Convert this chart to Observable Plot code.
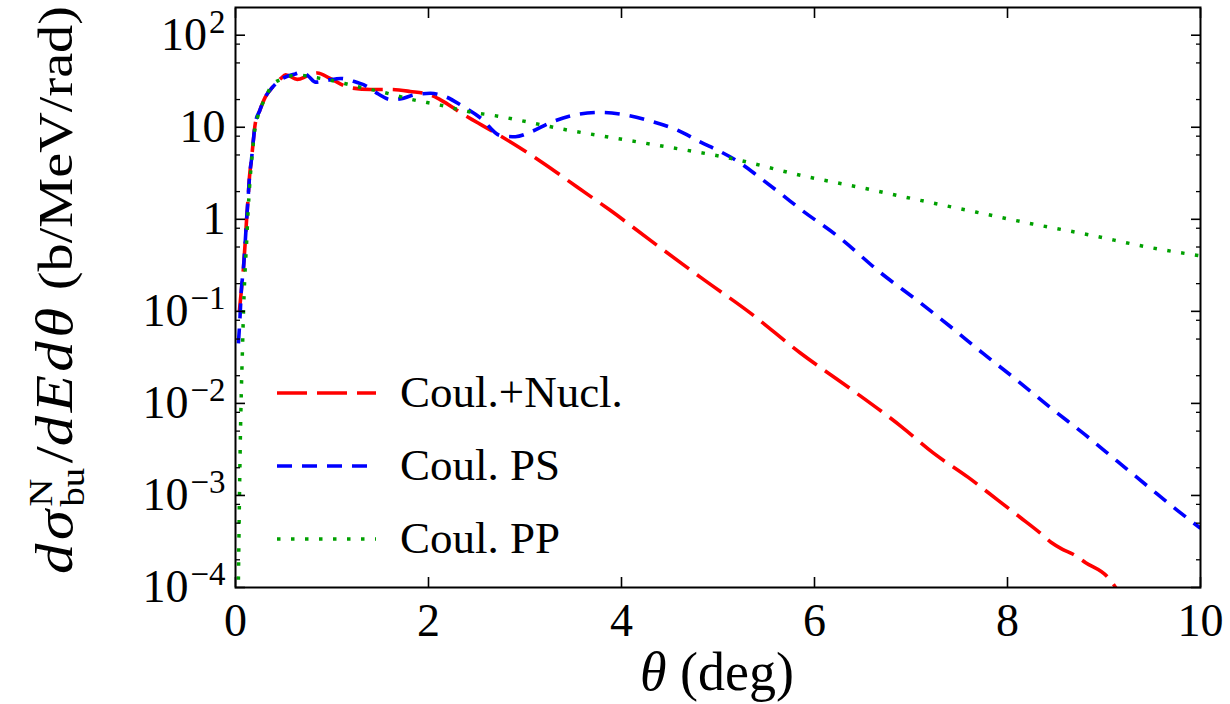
<!DOCTYPE html>
<html>
<head>
<meta charset="utf-8">
<script src="https://cdn.jsdelivr.net/npm/d3@7"></script>
<script src="https://cdn.jsdelivr.net/npm/@observablehq/plot@0.6"></script>
<style>
  html, body { margin: 0; padding: 0; background: #fff; }
  #chart svg text, #chart svg tspan { font-family: "Liberation Serif", "Times New Roman", Times, "Nimbus Roman", "DejaVu Serif", serif !important; }
</style>
</head>
<body>
<div id="chart"></div>
<script>
// ---- Data (theta in degrees, cross section in b/MeV/rad) ----
const thetaRed = [0.04,0.06,0.083,0.10,0.115,0.13,0.145,0.165,0.185,0.205,0.25,0.31,0.38,0.47,0.52,0.64,0.75,0.85,0.98,1.19,1.40,1.61,1.81,2.02,2.12,2.36,2.51,2.85,3.19,3.54,3.88,4.30,4.82,5.34,5.85,6.37,6.90,7.23,7.59,7.90,8.13,8.34,8.45,8.57,8.68,8.81,9.04,9.12,9.2];
const sigmaRed = [0.1,0.166,0.30,0.55,1.0,1.66,2.9,4.4,7.2,11,15.1,21.4,26.9,33.9,37.2,33.1,36.3,38.9,33.9,26.9,25.7,25.7,24.5,22.4,20,13.8,11.2,6.9,4.07,2.24,1.26,0.59,0.234,0.095,0.0355,0.0145,0.0056,0.0029,0.00158,0.00089,0.00058,0.00039,0.00031,0.00026,0.00023,0.000186,0.000129,0.0001,0.00007];

const thetaBlue = [0.03,0.045,0.06,0.083,0.10,0.115,0.13,0.145,0.165,0.185,0.205,0.25,0.31,0.38,0.47,0.55,0.62,0.69,0.76,0.83,0.95,1.09,1.22,1.35,1.48,1.61,1.72,1.81,2.02,2.18,2.35,2.54,2.75,2.90,3.06,3.26,3.50,3.78,4.06,4.30,4.58,4.82,5.03,5.23,5.44,5.65,5.85,6.27,6.68,7.07,7.41,7.75,8.10,8.45,8.80,9.14,9.49,9.76,10];
const sigmaBlue = [0.045,0.08,0.166,0.30,0.55,1.0,1.66,2.9,4.4,7.2,11,15.1,21.4,26.9,33,36.3,38,39.8,35.5,30.9,32.4,33.9,31.6,28.2,23,20,20.4,21.9,23.4,21.4,17,12.6,8.1,7.9,8.9,11.2,13.5,14.5,13.5,11.7,9.3,6.9,5.4,4.1,2.8,1.9,1.3,0.62,0.265,0.13,0.068,0.0347,0.0178,0.0089,0.0046,0.00234,0.00117,0.00069,0.00044];

const thetaGreen = [0.02,0.03,0.04,0.05,0.06,0.07,0.083,0.095,0.115,0.13,0.145,0.16,0.18,0.20,0.23,0.27,0.31,0.38,0.50,0.65,0.80,0.95,1.24,1.53,1.83,2.12,2.41,2.72,3.03,3.40,3.78,4.40,5.13,5.89,6.50,7.08,7.67,8.26,8.84,9.45,10];
const sigmaGreen = [0.00003,0.00012,0.0008,0.004,0.013,0.032,0.1,0.22,0.56,1.2,2.2,3.6,6,9.5,13,17,21,28.8,34,37,35,33,28,24,20,17.4,14.8,13.2,11.4,9.5,8.1,6.3,4.6,2.95,2.19,1.62,1.2,0.89,0.68,0.5,0.40];

const seriesNames = ["Coul.+Nucl.", "Coul. PS", "Coul. PP"];
const seriesColors = ["#ff0000", "#0000ff", "#00a000"];
const seriesDashes = ["30,10", "15,10", "3.5,10.5"];

const xTicks = [0, 2, 4, 6, 8, 10];
const yMajor = [1e-4, 1e-3, 1e-2, 1e-1, 1, 10, 100];
const yMinorMult = [2, 5, 8];
const yMinor = yMajor.flatMap(d => yMinorMult.map(m => d * m)).filter(v => v < 200);

// ---- Build tables ----
const toRows = (th, vals) => th.map((t, i) => ({theta: t, v: vals[i]}));
const tables = [toRows(thetaRed, sigmaRed), toRows(thetaBlue, sigmaBlue), toRows(thetaGreen, sigmaGreen)];

const fmtPow = d => {
  const e = Math.round(Math.log10(d));
  if (e === 0) return "1";
  if (e === 1) return "10";
  return "10^" + (e < 0 ? "\u2212" + (-e) : String(e));
};

const lineMarks = tables.map((rows, i) => Plot.line(rows, {
  x: "theta", y: "v",
  stroke: seriesColors[i],
  strokeWidth: i === 2 ? 3.5 : 3.6,
  strokeDasharray: seriesDashes[i],
  strokeLinecap: "butt",
  curve: "monotone-x",
  clip: true
}));

const plot = Plot.plot({
  width: 1230,
  height: 704,
  marginLeft: 235,
  marginRight: 30,
  marginTop: 7,
  marginBottom: 117,
  style: {background: "white", color: "black"},
  x: {domain: [0, 10]},
  y: {type: "log", domain: [1e-4, 200]},
  marks: [
    ...lineMarks,
    Plot.frame({stroke: "black", strokeWidth: 2}),
    Plot.axisX({anchor: "bottom", ticks: xTicks, tickSize: -10, tickPadding: 26, tickFormat: d => String(d), fontSize: 46, label: null, strokeWidth: 1.6}),
    Plot.axisX({anchor: "top", ticks: xTicks, tickSize: -10, tickFormat: () => "", label: null, strokeWidth: 1.6}),
    Plot.axisY({anchor: "left", ticks: yMajor, tickSize: -10, tickPadding: 20, tickFormat: fmtPow, fontSize: 46, label: null, strokeWidth: 1.6}),
    Plot.axisY({anchor: "right", ticks: yMajor, tickSize: -10, tickFormat: () => "", label: null, strokeWidth: 1.6}),
    Plot.axisY({anchor: "left", ticks: yMinor, tickSize: -5, tickFormat: () => "", label: null, strokeWidth: 1.3}),
    Plot.axisY({anchor: "right", ticks: yMinor, tickSize: -5, tickFormat: () => "", label: null, strokeWidth: 1.3})
  ]
});

document.getElementById("chart").appendChild(plot);

const svg = d3.select(plot);

// superscripts for power-of-ten tick labels
svg.selectAll("text").each(function() {
  const s = this.textContent;
  if (s && s.startsWith("10^")) {
    const exp = s.slice(3);
    const t = d3.select(this);
    t.text("");
    t.append("tspan").text("10");
    t.append("tspan").attr("font-size", 33).attr("dx", 2).attr("dy", "-17").text(exp);
  }
});

// y-axis label
const yl = svg.append("text")
  .attr("text-anchor", "middle")
  .attr("font-size", 48)
  .attr("fill", "black");
yl.append("tspan").attr("font-style", "italic").attr("font-size", 52).attr("letter-spacing", 3).text("dσ");
yl.append("tspan").attr("font-size", 33).attr("dy", -20).text("N");
yl.append("tspan").attr("font-size", 33).attr("dx", -24).attr("dy", 32).text("bu");
yl.append("tspan").attr("dy", -12).attr("dx", 4).attr("font-size", 52).text("/");
yl.append("tspan").attr("font-style", "italic").attr("font-size", 52).attr("letter-spacing", 3).text("dEdθ");
yl.append("tspan").text("\u00a0(b/MeV/rad)");
{
  const w = yl.node().getBBox().width;
  const sx = 568 / w;
  yl.attr("transform", `translate(72,290) rotate(-90) scale(${sx},1)`);
}

// x-axis label
const xl = svg.append("text")
  .attr("x", 717).attr("y", 690)
  .attr("text-anchor", "middle")
  .attr("font-size", 54)
  .attr("fill", "black");
xl.append("tspan").attr("font-style", "italic").text("θ");
xl.append("tspan").text("\u00a0(deg)");

// legend
const legY = [393, 466, 539];
seriesNames.forEach((name, i) => {
  svg.append("line")
    .attr("x1", 277).attr("x2", 376)
    .attr("y1", legY[i]).attr("y2", legY[i])
    .attr("stroke", seriesColors[i])
    .attr("stroke-width", i === 2 ? 3.5 : 3.6)
    .attr("stroke-dasharray", seriesDashes[i]);
  svg.append("text")
    .attr("x", 400).attr("y", legY[i] + 14)
    .attr("text-anchor", "start")
    .attr("font-size", 45)
    .attr("fill", "black")
    .text(name);
});
</script>
</body>
</html>
